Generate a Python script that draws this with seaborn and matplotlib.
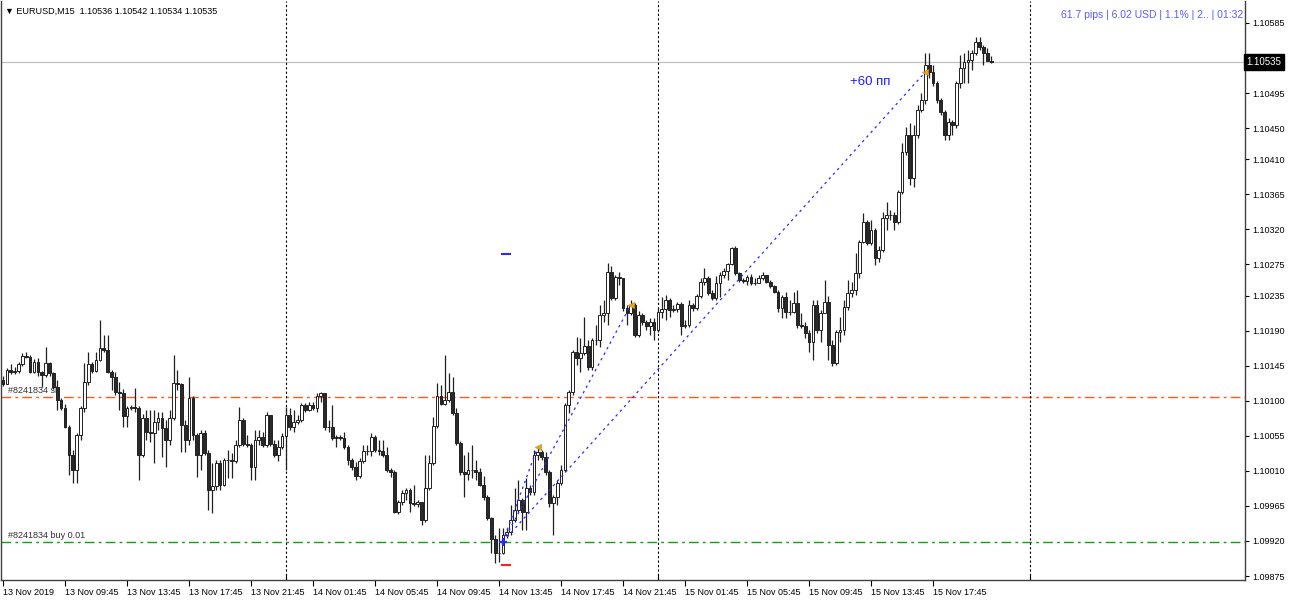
import numpy as np
import pandas as pd
import matplotlib
matplotlib.use("Agg")
import matplotlib.pyplot as plt
import seaborn as sns

# EURUSD M15, 13 Nov 2019 05:45 .. 15 Nov 21:30
# prices stored as points above 1.10000 (1 point = 0.00001)
FIRST_OPEN = 127
close_pts = [
    122, 140, 137, 138, 147, 157, 156, 137, 150, 137, 133, 149, 135, 118, 101, 91,
    66, 31, 11, 56, 91, 124, 147, 138, 152, 168, 165, 137, 131, 111, 110, 81,
    91, 92, 91, 31, 78, 60, 59, 73, 78, 65, 50, 78, 123, 122, 69, 49,
    104, 56, 31, 59, 33, -14, -9, 20, -8, 24, 24, 23, 43, 75, 45, 43,
    15, 50, 54, 43, 82, 45, 31, 41, 55, 82, 66, 73, 75, 95, 88, 95,
    91, 106, 110, 66, 66, 52, 54, 52, 41, 24, 15, 3, 23, 36, 36, 54,
    37, 36, 31, 11, 9, -43, -30, -18, -14, -31, -33, -30, -53, -12, 20, 68,
    106, 96, 101, 111, 84, 46, 8, 6, 11, 11, 9, -8, -24, -50, -78, -96,
    -95, -72, -68, -53, -40, -27, -43, -12, -17, 31, 34, 28, 9, -31, -24, -5,
    11, 95, 111, 162, 155, 161, 170, 143, 178, 178, 210, 213, 265, 232, 259, 258,
    219, 213, 223, 185, 210, 201, 196, 201, 191, 214, 218, 229, 216, 218, 224, 196,
    197, 223, 219, 234, 252, 258, 238, 232, 251, 261, 267, 276, 296, 264, 255, 254,
    259, 251, 251, 258, 261, 252, 247, 240, 219, 233, 214, 214, 225, 197, 196, 187,
    175, 223, 191, 213, 227, 171, 148, 188, 191, 220, 238, 242, 264, 304, 329, 303,
    319, 283, 293, 335, 338, 338, 329, 368, 419, 441, 386, 441, 473, 486, 531, 522,
    508, 486, 471, 441, 458, 454, 508, 527, 535, 537, 547, 560, 554, 547, 536, 535,
]
high_pts = [
    132, 142, 147, 143, 150, 161, 162, 159, 153, 155, 138, 169, 150, 137, 127, 104,
    96, 69, 37, 59, 93, 149, 162, 150, 162, 204, 185, 185, 140, 137, 124, 115,
    93, 95, 116, 93, 83, 88, 88, 88, 86, 86, 75, 88, 159, 140, 123, 75,
    131, 106, 59, 63, 63, 37, 20, 24, 24, 27, 37, 33, 50, 92, 78, 56,
    46, 63, 63, 60, 86, 82, 50, 50, 59, 92, 91, 88, 82, 97, 97, 98,
    98, 110, 111, 93, 75, 95, 56, 56, 60, 43, 27, 22, 27, 43, 43, 59,
    56, 50, 50, 40, 14, 11, -27, -14, -12, -12, -8, -27, -31, 31, 31, 79,
    123, 120, 159, 136, 131, 91, 48, 31, 34, 43, 24, 14, 4, -21, -49, -72,
    -63, -63, -63, -34, -12, -2, -25, 1, -8, 37, 41, 37, 34, 11, -21, -2,
    18, 97, 114, 165, 182, 181, 207, 178, 181, 197, 223, 229, 277, 273, 261, 265,
    255, 223, 229, 226, 215, 213, 204, 206, 206, 219, 233, 236, 232, 223, 227, 227,
    204, 229, 225, 237, 258, 270, 260, 242, 260, 265, 270, 277, 297, 299, 265, 258,
    261, 263, 258, 261, 265, 261, 255, 248, 242, 236, 240, 229, 240, 242, 213, 201,
    191, 229, 229, 216, 255, 234, 178, 191, 207, 229, 255, 252, 290, 306, 341, 332,
    332, 322, 299, 342, 355, 345, 342, 370, 431, 451, 456, 454, 480, 495, 546, 546,
    531, 511, 489, 473, 463, 460, 511, 544, 547, 550, 550, 567, 567, 557, 553, 542,
]
low_pts = [
    119, 122, 134, 134, 136, 145, 155, 136, 136, 132, 118, 131, 132, 115, 88, 88,
    65, 5, -5, -5, 50, 86, 120, 136, 137, 151, 163, 136, 114, 108, 88, 66,
    66, 88, 86, -2, 28, 50, 47, 20, 63, 28, 15, 43, 75, 114, 34, 34,
    43, 50, 2, 11, 31, -40, -44, -14, -14, -10, 1, 1, 20, 41, 42, 41,
    -2, -2, 43, 41, 41, 42, 28, 23, 38, 11, 63, 60, 70, 73, 86, 87,
    88, 86, 98, 63, 60, 50, 41, 50, 38, 18, 11, -2, 1, 20, 31, 29,
    34, 31, 28, 9, 2, -44, -46, -34, -27, -43, -35, -37, -59, -55, -14, 18,
    65, 95, 95, 98, 82, 43, 5, -24, -2, 1, -2, -10, -27, -53, -95, -108,
    -107, -97, -76, -72, -55, -43, -66, -66, -21, -21, 24, 24, 5, -36, -72, -34,
    -8, 9, 84, 108, 146, 137, 159, 140, 140, 172, 169, 201, 197, 229, 229, 248,
    215, 197, 210, 182, 182, 197, 191, 185, 178, 188, 206, 204, 207, 214, 214, 185,
    193, 195, 215, 216, 232, 248, 236, 229, 229, 233, 258, 255, 274, 261, 252, 251,
    248, 248, 248, 252, 255, 251, 245, 238, 214, 206, 206, 210, 213, 193, 193, 180,
    162, 152, 187, 175, 214, 152, 144, 146, 175, 185, 216, 233, 236, 258, 303, 300,
    300, 274, 278, 291, 319, 332, 319, 327, 365, 415, 377, 374, 437, 471, 481, 514,
    504, 482, 467, 435, 435, 441, 450, 502, 508, 508, 524, 544, 550, 531, 537, 534,
]

TIME_LABELS = ["13 Nov 2019", "13 Nov 09:45", "13 Nov 13:45", "13 Nov 17:45",
               "13 Nov 21:45", "14 Nov 01:45", "14 Nov 05:45", "14 Nov 09:45",
               "14 Nov 13:45", "14 Nov 17:45", "14 Nov 21:45", "15 Nov 01:45",
               "15 Nov 05:45", "15 Nov 09:45", "15 Nov 13:45", "15 Nov 17:45"]
PRICE_TICKS = [1.10585, 1.10540, 1.10495, 1.10450, 1.10410, 1.10365, 1.10320,
               1.10275, 1.10235, 1.10190, 1.10145, 1.10100, 1.10055, 1.10010,
               1.09965, 1.09920, 1.09875]
SEPARATOR_BARS = [73, 169, 265]   # day starts

# order #8241834
ORDER_OPEN = 1.09919
ORDER_LEVEL = 1.10105
ENTRY_BAR = 129
EXIT_BARS = [138, 162, 238]
EXIT_PRICES = [1.10041, 1.10223, 1.10522]
BID = 1.10535

sns.set_theme(style="white")
plt.rcParams['font.family'] = ['Liberation Sans', 'DejaVu Sans']

df = pd.DataFrame({
    "close": np.array(close_pts) / 1e5 + 1.1,
    "high": np.array(high_pts) / 1e5 + 1.1,
    "low": np.array(low_pts) / 1e5 + 1.1,
})
df["open"] = np.r_[FIRST_OPEN / 1e5 + 1.1, df["close"].values[:-1]]
df["bar"] = np.arange(len(df))
up = df["close"] >= df["open"]

fig = plt.figure(figsize=(12.9, 6.0), dpi=100)
ax = fig.add_axes([1 / 1290, 20 / 600, 1244 / 1290, 579 / 600])
ax.set_facecolor("white")

# horizontal order lines and bid line
ax.axhline(ORDER_LEVEL, color="#ff5a1e", lw=1.0, ls=(0, (7, 3, 2, 3)), zorder=1)
ax.axhline(ORDER_OPEN, color="#10a010", lw=1.0, ls=(0, (7, 3, 2, 3)), zorder=1)
ax.axhline(BID, color="#c0c0c0", lw=0.9, zorder=1)
for b in SEPARATOR_BARS:
    ax.axvline(b, color="black", lw=0.8, ls=(0, (2, 2)), zorder=1)

tr = ax.get_yaxis_transform()
ax.text(0.0056, ORDER_LEVEL + 0.000025, "#8241834 sl", transform=tr, fontsize=6.5,
        color="#303030", va="bottom", zorder=1.5)
ax.text(0.0056, ORDER_OPEN + 0.000025, "#8241834 buy 0.01", transform=tr, fontsize=6.5,
        color="#303030", va="bottom", zorder=1.5)

# candles
ax.vlines(df["bar"], df["low"], df["high"], color="#202020", lw=0.9, zorder=2)
ax.bar(df["bar"], df["close"] - df["open"], bottom=df["open"], width=0.7,
       color=np.where(up, "white", "#2a2a2a"), edgecolor="#202020", linewidth=0.7, zorder=3)

# trade lines from the entry to each close
trades = pd.DataFrame({
    "bar": np.ravel([[ENTRY_BAR, b] for b in EXIT_BARS]),
    "price": np.ravel([[ORDER_OPEN, p] for p in EXIT_PRICES]),
    "trade": np.repeat(np.arange(len(EXIT_BARS)), 2),
})
sns.lineplot(data=trades, x="bar", y="price", units="trade", estimator=None, sort=False,
             color="#2a2aff", lw=0.9, ls=(0, (2, 3)), ax=ax, zorder=4)
sns.scatterplot(x=EXIT_BARS, y=EXIT_PRICES, marker="<", s=22, color="#eaa020",
                edgecolor="#c08010", linewidth=0.3, ax=ax, zorder=5)
ax.plot([ENTRY_BAR], [ORDER_OPEN], marker="+", ms=6, mew=1.6, color="#2a2aff", zorder=5)
ax.plot([ENTRY_BAR + 0.8], [1.10288], marker="_", ms=7, mew=1.5, color="#2a2aff", zorder=5)
ax.plot([ENTRY_BAR + 0.8], [1.09889], marker="_", ms=7, mew=1.5, color="#ff2020", zorder=5)

ax.text(218.6, 1.10509, "+60 пп", fontsize=9.5, color="#1e1eff", va="center", ha="left")

# axes
ax.set_xlim(-0.52, 320.5)
ax.set_ylim(1.098699, 1.106132)
ax.set_xlabel("")
ax.set_ylabel("")
ax.yaxis.tick_right()
ax.set_yticks(PRICE_TICKS)
ax.set_yticklabels([f"{p:.5f}" for p in PRICE_TICKS])
ax.set_xticks(np.arange(len(TIME_LABELS)) * 16)
ax.set_xticklabels(TIME_LABELS, ha="left")
ax.set_xticks(SEPARATOR_BARS, minor=True)
ax.tick_params(axis="y", which="both", right=True, left=False, length=3, width=0.8,
               pad=2, labelsize=6.5, colors="black", direction="out")
ax.tick_params(axis="x", which="major", bottom=True, length=4, width=0.8, pad=1.5,
               labelsize=6.5, colors="black", direction="out")
ax.tick_params(axis="x", which="minor", bottom=True, length=4, width=0.8,
               colors="black", direction="in")
for lab in ax.get_xticklabels():
    lab.set_horizontalalignment("left")
for side in ["left", "bottom", "right"]:
    ax.spines[side].set_visible(True)
    ax.spines[side].set_color("#404040")
    ax.spines[side].set_linewidth(1.0)
ax.spines["top"].set_visible(False)
ax.grid(False)

ax.text(1.0012, BID, "1.10535", transform=tr, ha="left", va="center", color="white",
        fontsize=7, zorder=10, clip_on=False,
        bbox=dict(facecolor="black", edgecolor="black", boxstyle="square,pad=0.3"))

fig.text(5 / 1290, 1 - 11 / 600, "▼ EURUSD,M15  1.10536 1.10542 1.10534 1.10535",
         fontsize=6.5, color="black", va="center", ha="left")
fig.text(1243 / 1290, 1 - 15 / 600, "61.7 pips | 6.02 USD | 1.1% | 2.. | 01:32",
         fontsize=7.5, color="#5a5aff", va="center", ha="right")

fig.savefig("out.png", dpi=100)
plt.close(fig)
